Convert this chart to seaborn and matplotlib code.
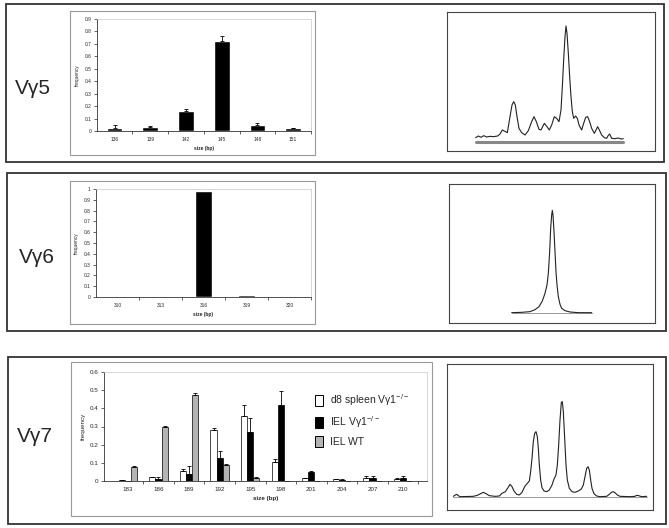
import numpy as np
import pandas as pd
import matplotlib
matplotlib.use("Agg")
import matplotlib.pyplot as plt
from matplotlib.patches import Rectangle, Patch
import seaborn as sns

sns.set_style("white")
plt.rcParams["font.family"] = ["Liberation Sans", "DejaVu Sans"]
plt.rcParams["mathtext.fontset"] = "custom"
plt.rcParams["mathtext.rm"] = "Liberation Sans"

# =========================
# DATA
# =========================
# V gamma 5
sizes_v5 = ["136", "139", "142", "145", "148", "151"]
freq_v5 = [0.025, 0.035, 0.16, 0.725, 0.05, 0.025]
err_v5 = [0.025, 0.005, 0.015, 0.04, 0.015, 0.0]
yticks_v5 = [0, 0.1, 0.2, 0.3, 0.4, 0.5, 0.6, 0.7, 0.8, 0.9]
ylabels_v5 = ["0", "0.1", "0.2", "0.3", "0.4", "0.5", "0.6", "0.7", "0.8", "0.9"]

# V gamma 6
sizes_v6 = ["310", "313", "316", "319", "320"]
freq_v6 = [0.005, 0.005, 0.98, 0.02, 0.005]
yticks_v6 = [0, 0.1, 0.2, 0.3, 0.4, 0.5, 0.6, 0.7, 0.8, 0.9, 1.0]
ylabels_v6 = ["0", "0.1", "0.2", "0.3", "0.4", "0.5", "0.6", "0.7", "0.8", "0.9", "1"]

# V gamma 7
sizes_v7 = ["183", "186", "189", "192", "195", "198", "201", "204", "207", "210"]
freq_d8 = [0.008, 0.02, 0.055, 0.28, 0.36, 0.105, 0.015, 0.01, 0.015, 0.01]
err_d8 = [0.0, 0.003, 0.01, 0.01, 0.06, 0.015, 0.003, 0.003, 0.01, 0.008]
freq_ko = [0.0, 0.01, 0.04, 0.125, 0.27, 0.42, 0.05, 0.008, 0.015, 0.015]
err_ko = [0.0, 0.01, 0.045, 0.04, 0.075, 0.075, 0.005, 0.002, 0.01, 0.01]
freq_wt = [0.075, 0.295, 0.475, 0.09, 0.015, 0.0, 0.0, 0.0, 0.0, 0.0]
err_wt = [0.007, 0.01, 0.01, 0.002, 0.005, 0.0, 0.0, 0.0, 0.0, 0.0]
groups = ["d8 spleen", "IEL ko", "IEL WT"]
legend_labels = ["d8 spleen Vγ1$^{\\mathregular{-/-}}$", "IEL Vγ1$^{\\mathregular{-/-}}$", "IEL WT"]
yticks_v7 = [0, 0.1, 0.2, 0.3, 0.4, 0.5, 0.6]
ylabels_v7 = ["0", "0.1", "0.2", "0.3", "0.4", "0.5", "0.6"]

# chromatogram traces (mobility, signal)
mob_c5 = [62, 70, 78, 86, 95, 105, 115, 128, 135, 142, 150, 157, 165, 171, 176, 181,
          186, 192, 200, 210, 220, 230, 237, 244, 252, 258, 268, 276, 283, 290, 298,
          305, 312, 318, 322, 326, 330, 333, 336, 340, 344, 348, 352, 356, 362, 367,
          372, 380, 386, 392, 398, 404, 410, 418, 424, 428, 434, 440, 448, 455, 460,
          464, 470, 480, 490, 498, 505]
sig_c5 = [17, 22, 18, 23, 19, 21, 20, 22, 28, 40, 36, 32, 80, 115, 125, 115,
          80, 45, 32, 25, 38, 65, 80, 65, 42, 40, 60, 50, 40, 55, 80,
          75, 65, 100, 170, 250, 320, 352, 330, 270, 200, 140, 95, 75, 82, 75,
          55, 40, 60, 78, 80, 65, 45, 30, 42, 50, 38, 25, 17, 15, 24,
          28, 15, 14, 16, 13, 14]

mob_c6 = [170, 200, 225, 240, 252, 262, 270, 276, 280, 284, 287, 290, 292, 294, 297,
          300, 303, 306, 310, 315, 320, 330, 345, 370, 410]
sig_c6 = [17, 18, 20, 26, 35, 52, 75, 100, 135, 200, 270, 310, 324, 310, 260,
          200, 140, 100, 65, 42, 30, 23, 19, 17, 17]

mob_c7 = [40, 46, 50, 55, 60, 100, 112, 122, 130, 138, 148, 165, 178, 186, 196, 204,
          210, 216, 222, 230, 238, 246, 254, 262, 268, 272, 276, 280, 284, 288, 292,
          295, 298, 302, 306, 312, 320, 328, 336, 342, 348, 352, 356, 360, 364, 367,
          370, 374, 378, 382, 388, 396, 405, 415, 424, 430, 436, 440, 444, 448, 452,
          456, 462, 470, 480, 500, 508, 514, 520, 526, 532, 540, 570, 585, 590, 596,
          605, 620]
sig_c7 = [16, 20, 22, 18, 15, 16, 19, 24, 28, 24, 18, 16, 17, 25, 30, 42,
          52, 45, 32, 22, 20, 28, 45, 55, 62, 90, 130, 180, 205, 210, 195,
          160, 110, 65, 42, 32, 30, 35, 50, 68, 80, 110, 170, 245, 298, 300,
          270, 190, 110, 65, 40, 30, 28, 32, 38, 50, 80, 100, 105, 95, 65,
          40, 24, 17, 15, 16, 22, 28, 30, 26, 20, 16, 15, 16, 19, 18,
          15, 16]

# =========================
# LAYOUT HELPERS (pixel boxes)
# =========================
W, H = 669, 528
fig = plt.figure(figsize=(W / 100, H / 100), dpi=100)


def frac(x0, y0, x1, y1):
    return [x0 / W, 1 - y1 / H, (x1 - x0) / W, (y1 - y0) / H]


def frame(x0, y0, x1, y1, color, lw):
    fig.patches.append(Rectangle((x0 / W, 1 - y1 / H), (x1 - x0) / W, (y1 - y0) / H,
                                 transform=fig.transFigure, fill=False,
                                 edgecolor=color, linewidth=lw))


def style_bar_axes(ax, yticks, ylabels, ymax, fs):
    ax.set_ylim(0, ymax)
    ax.set_yticks(yticks)
    ax.set_yticklabels(ylabels)
    ax.tick_params(axis="y", length=2, width=0.5, pad=2, labelsize=fs, left=True)
    ax.tick_params(axis="x", length=0, pad=4, labelsize=fs)
    n = len(ax.get_xticks())
    ax.set_xticks(np.arange(n) + 0.5, minor=True)
    ax.tick_params(axis="x", which="minor", length=2, width=0.5, bottom=True)
    for s in ["left", "bottom"]:
        ax.spines[s].set_color("#333")
        ax.spines[s].set_linewidth(0.6)
    for s in ["top", "right"]:
        ax.spines[s].set_color("#c8c8c8")
        ax.spines[s].set_linewidth(0.5)
    ax.set_ylabel("frequency", fontsize=fs, labelpad=3)
    ax.set_xlabel("size (bp)", fontsize=fs, fontweight="bold", labelpad=3)


def add_errors(ax, container, err):
    xs = [b.get_x() + b.get_width() / 2 for b in container]
    ys = [b.get_height() for b in container]
    ax.errorbar(xs, ys, yerr=[np.zeros(len(err)), err], fmt="none",
                ecolor="black", elinewidth=0.6, capsize=1.5, capthick=0.6)


# panel frames
frame(6, 4, 664, 162, "#333", 1.3)
frame(7, 173, 666, 331, "#333", 1.3)
frame(8, 357, 666, 524, "#333", 1.3)
# Excel chart boxes
frame(70, 11, 315, 155, "#999", 0.8)
frame(70, 181, 315, 324, "#999", 0.8)
frame(71, 362, 432, 516, "#999", 0.8)

# panel labels
for txt, (x, y) in zip(["Vγ5", "Vγ6", "Vγ7"], [(33, 88), (37, 257), (35, 437)]):
    fig.text(x / W, 1 - y / H, txt, fontsize=15, ha="center", va="center")

# =========================
# BAR CHARTS
# =========================
ax1 = fig.add_axes(frac(97, 19, 311, 131))
sns.barplot(x=sizes_v5, y=freq_v5, color="black", width=0.44, errorbar=None,
            saturation=1, ax=ax1)
add_errors(ax1, ax1.containers[0], err_v5)
style_bar_axes(ax1, yticks_v5, ylabels_v5, 0.9, 3.5)

ax2 = fig.add_axes(frac(96, 189, 311, 297))
sns.barplot(x=sizes_v6, y=freq_v6, color="black", width=0.4, errorbar=None,
            saturation=1, ax=ax2)
style_bar_axes(ax2, yticks_v6, ylabels_v6, 1.0, 3.5)

df7 = pd.DataFrame({
    "size": sizes_v7 * 3,
    "frequency": freq_d8 + freq_ko + freq_wt,
    "group": [g for g in groups for _ in sizes_v7],
})
colors7 = ["white", "black", "#b4b4b4"]
ax3 = fig.add_axes(frac(104, 372, 427, 481))
sns.barplot(data=df7, x="size", y="frequency", hue="group", hue_order=groups,
            palette=colors7, width=0.6, errorbar=None, saturation=1,
            edgecolor="black", linewidth=0.5, legend=False, ax=ax3)
for cont, err in zip(ax3.containers, [err_d8, err_ko, err_wt]):
    add_errors(ax3, cont, err)
style_bar_axes(ax3, yticks_v7, ylabels_v7, 0.6, 4.5)
handles = [Patch(facecolor=c, edgecolor="black", linewidth=0.7) for c in colors7]
ax3.legend(handles, legend_labels, loc="upper left", bbox_to_anchor=(0.64, 0.855),
           frameon=False, fontsize=7.5, handlelength=0.75, handleheight=1.3,
           handletextpad=0.7, labelspacing=0.6, borderaxespad=0)

# =========================
# CHROMATOGRAMS
# =========================
chroms = [
    (frac(447, 12, 655, 151), mob_c5, sig_c5, (-24, 600), (-23, 394), (62, 505, 5, 2.2, "#888")),
    (frac(449, 184, 655, 323), mob_c6, sig_c6, (-18, 600), (-14, 403), (170, 410, 17, 0.6, "#888")),
    (frac(447, 364, 653, 510), mob_c7, sig_c7, (21, 639), (-25, 413), (40, 620, 15, 0.7, "#999")),
]
for rect, mob, sig, xl, yl, base in chroms:
    ax = fig.add_axes(rect)
    ax.plot([base[0], base[1]], [base[2], base[2]], color=base[4], lw=base[3])
    sns.lineplot(x=mob, y=sig, color="#222", lw=0.8, ax=ax, sort=False)
    ax.set_xlim(*xl)
    ax.set_ylim(*yl)
    ax.set_xticks([])
    ax.set_yticks([])
    ax.set_xlabel("")
    ax.set_ylabel("")
    for s in ax.spines.values():
        s.set_color("#444")
        s.set_linewidth(0.8)

fig.savefig("out.png", dpi=100)
